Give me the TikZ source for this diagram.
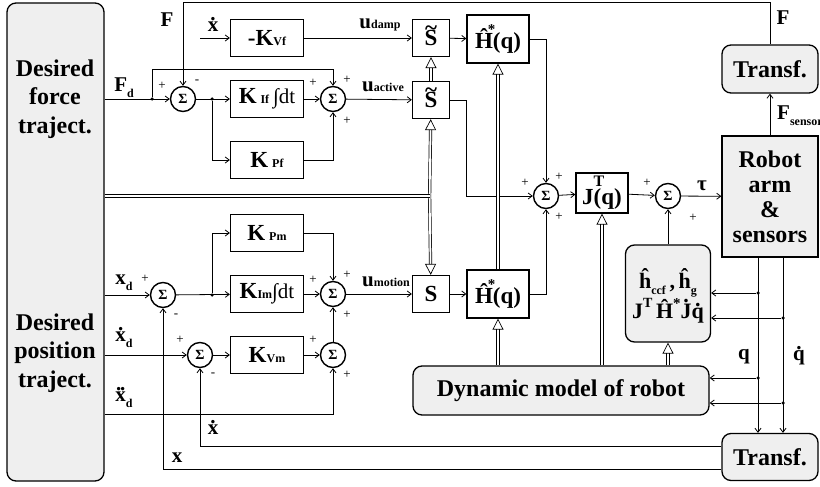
\documentclass[tikz,border=0pt]{standalone}
\usepackage{fontspec}
\setmainfont{Liberation Serif}
\usetikzlibrary{arrows.meta,positioning}
\definecolor{boxgray}{HTML}{EFEFEF}
\newcommand{\lsub}[1]{\raisebox{-0.3em}{\fontsize{12}{12}\selectfont #1}}
\newcommand{\ssub}[1]{{\fontsize{12}{12}\selectfont #1}}
\newcommand{\dotx}[2][.52em]{\ooalign{#2\cr\hidewidth\raisebox{#1}{.}\hidewidth\cr}}
\newcommand{\ddotx}{\ooalign{x\cr\hidewidth\raisebox{.52em}{.\kern-0.06em.}\hidewidth\cr}}
\newcommand{\tildeS}{\ooalign{S\cr\hidewidth\raisebox{.45em}{\textasciitilde}\hidewidth\cr}}
\newcommand{\hstar}{\^{H}\rlap{\kern-0.22em\raisebox{.62em}{\fontsize{15}{15}\selectfont *}}}

\begin{document}
\begin{tikzpicture}[x=1pt, y=-1pt, >={Straight Barb[length=4pt,width=6pt]},
  blk/.style={draw, line width=1.3pt, minimum width=73pt, minimum height=37pt, inner sep=1pt, font=\bfseries\fontsize{23}{23}\selectfont},
  sbox/.style={blk, minimum width=37pt},
  hqbox/.style={blk, minimum width=62pt, minimum height=48pt},
  gbox/.style={draw, line width=1.3pt, rounded corners=9pt, fill=boxgray, align=center, inner sep=2pt, font=\bfseries\fontsize{24}{28}\selectfont},
  dtext/.style={align=center, inner sep=0pt, font=\bfseries\fontsize{24}{28.5}\selectfont},
  sumc/.style={circle, draw, line width=1.4pt, minimum size=25pt, inner sep=0pt, font=\bfseries\fontsize{14}{14}\selectfont},
  lab/.style={inner sep=0pt, font=\bfseries\fontsize{21}{21}\selectfont},
  pm/.style={inner sep=0pt, font=\fontsize{13}{13}\selectfont},
  sig/.style={line width=0.8pt, ->},
  dblw/.style={line width=0.7pt, double distance=1.8pt},
  dbl/.style={dblw, -{Triangle[open, length=11pt, width=11pt]}},
  jdot/.style={circle, fill, inner sep=0pt, minimum size=3.5pt}]
  \useasboundingbox (0,0) rectangle (820,487);
  \clip (0,0) rectangle (820,487);

  % trajectory generator
  \node[gbox, minimum width=97pt, minimum height=478pt] (des) at (55.5,242) {};
  \node[dtext] (fdes) at (55,99) {Desired\\force\\traject.};
  \node[dtext] (pdes) at (55,353) {Desired\\position\\traject.};

  % force branch
  \node[blk] (kvf) at (267,38) {-K\ssub{Vf}};
  \node[blk] (kif) at (267,99) {K\,\ssub{If}\,{\mdseries\fontsize{21}{21}\selectfont ∫dt}};
  \node[blk] (kpf) at (267,160) {K\,\ssub{Pf}};
  \node[sumc] (sum1) at (183,99) {Σ};
  \node[sumc] (sumf) at (333,99) {Σ};
  \node[sbox] (s1) at (431,38) {\tildeS};
  \node[sbox] (s2) at (431,100) {\tildeS};
  \node[hqbox] (hf) at (498,39) {\hstar(q)};

  % motion branch
  \node[blk] (kpm) at (267,233) {K\,\ssub{Pm}};
  \node[blk] (kim) at (267,294) {K\ssub{Im}{\mdseries\fontsize{21}{21}\selectfont ∫dt}};
  \node[blk] (kvm) at (267,355) {K\ssub{Vm}};
  \node[sumc] (sump) at (163,295) {Σ};
  \node[sumc] (summ) at (333,294) {Σ};
  \node[sumc] (sumv) at (200,355) {Σ};
  \node[sumc] (suma) at (333,355) {Σ};
  \node[sbox] (s3) at (431,294) {S};
  \node[hqbox] (hm) at (498,294) {\hstar(q)};

  % joint space
  \node[sumc] (sum3) at (546,196) {Σ};
  \node[blk, minimum width=52pt, minimum height=40pt] (jt) at (602,193) {J\rlap{\raisebox{.8em}{\fontsize{16}{16}\selectfont T}}(q)};
  \node[sumc] (sum4) at (668,196) {Σ};
  \node[gbox, rounded corners=0pt, minimum width=96pt, minimum height=121pt, fill=boxgray, font=\bfseries\fontsize{24}{25}\selectfont] (robot) at (770,196.5) {Robot\\arm\\\&\\sensors};
  \node[gbox, minimum width=96pt, minimum height=48pt] (trf) at (770,69) {Transf.};
  \node[gbox, minimum width=96pt, minimum height=47pt] (trb) at (770,457) {Transf.};
  \node[gbox, minimum width=85pt, minimum height=97pt, font=\bfseries\fontsize{22}{30}\selectfont] (hcomp) at (668,293.5)
    {\^{h}\lsub{ccf}\,,\,\^{h}\lsub{g}\\J\raisebox{.5em}{\fontsize{14}{14}\selectfont T}\,\^{H}\raisebox{.45em}{\fontsize{15}{15}\selectfont *}\dotx[.72em]{J}\dotx{q}};
  \node[gbox, minimum width=296pt, minimum height=49pt] (dyn) at (561,390.5) {Dynamic model of robot};

  % junctions
  \node[jdot] (fdj) at (152,99) {};
  \node[jdot] (fej) at (212,99) {};
  \node[jdot] (mej) at (212,295) {};
  \coordinate (xin) at (200,38);
  \coordinate (qs) at ([xshift=-12pt]robot.south);
  \coordinate (qds) at ([xshift=13pt]robot.south);
  \node[jdot] (qa) at (qs |- 0,293) {};
  \node[jdot] (qb) at (qs |- 0,378) {};
  \node[jdot] (qda) at (qds |- 0,318) {};
  \node[jdot] (qdb) at (qds |- 0,403) {};
  \coordinate (sj) at (429.6,196);

  % signal paths
  \draw[sig] (des.east |- sum1) -- (sum1);
  \draw[sig] (fdj) -- ++(0,-30) -| (sumf);
  \draw[sig] (trf.north) -- ++(0,-42) -| (sum1);
  \draw[sig] (sum1) -- (kif);
  \draw[sig] (fej) |- (kpf);
  \draw[sig] (kif) -- (sumf);
  \draw[sig] (kpf) -| (sumf);
  \draw[sig] (sumf) -- (s2);
  \draw[sig] (xin) -- (kvf);
  \draw[sig] (kvf) -- (s1);
  \draw[sig] (s1) -- (hf);
  \draw[sig] (hf) -| (sum3);
  \draw[sig] (s2) -| (hf.west |- sum3) -- (sum3);
  \draw[sig] (hm) -| (sum3);
  \draw[sig] (sum3) -- (jt);
  \draw[sig] (jt) -- (sum4);
  \draw[sig] (sum4) -- (robot);
  \draw[sig] (hcomp) -- (sum4);
  \draw[sig] (robot) -- (trf);
  \draw[sig] (qs) -- (qs |- trb.north);
  \draw[sig] (qds) -- (qds |- trb.north);
  \draw[sig] (qa) -- (qa -| hcomp.east);
  \draw[sig] (qda) -- (qda -| hcomp.east);
  \draw[sig] (qb) -- (qb -| dyn.east);
  \draw[sig] (qdb) -- (qdb -| dyn.east);
  \draw[sig] ([yshift=11pt]trb.west) -| (sumv);
  \draw[sig] ([yshift=-12pt]trb.west) -| (sump);
  \draw[sig] (des.east |- sump) -- (sump);
  \draw[sig] (sump) -- (kim);
  \draw[sig] (mej) |- (kpm);
  \draw[sig] (kim) -- (summ);
  \draw[sig] (kpm) -| (summ);
  \draw[sig] (summ) -- (s3);
  \draw[sig] (s3) -- (hm);
  \draw[sig] (des.east |- sumv) -- (sumv);
  \draw[sig] (sumv) -- (kvm);
  \draw[sig] (kvm) -- (suma);
  \draw[sig] (suma) -- (summ);
  \draw[sig] (des.east |- 0,414) -| (suma);

  % selection and model paths
  \draw[dbl] (s2) -- (s1);
  \draw[dbl] (sj) -- (s2);
  \draw[dbl] (sj) -- (s3);
  \draw[dblw] (des.east |- sj) -- (sj);
  \draw[dbl] (hm) -- (hf);
  \draw[dbl] (dyn.north -| hm) -- (hm);
  \draw[dbl] (dyn.north -| jt) -- (jt);
  \draw[dbl] (dyn.north -| hcomp) -- (hcomp);

  % labels
  \node[lab] at (167,20) {F};
  \node[lab] at (783,18) {F};
  \node[lab] at (213,27) {\dotx{x}};
  \node[lab] at (380,25) {u\ssub{damp}};
  \node[lab] at (383,87) {u\ssub{active}};
  \node[lab] at (124,88) {F\lsub{d}};
  \node[lab] at (124,283) {x\lsub{d}};
  \node[lab] at (124,340) {\dotx{x}\lsub{d}};
  \node[lab] at (124,400) {\ddotx\lsub{d}};
  \node[lab] at (386,282) {u\ssub{motion}};
  \node[lab] at (213,430) {\dotx{x}};
  \node[lab] at (177,458) {x};
  \node[lab, anchor=west] at (777,116) {F\lsub{sensor}};
  \node[lab] at (702,186) {τ};
  \node[lab] at (744,357) {q};
  \node[lab] at (799,355) {\dotx{q}};

  % signs
  \node[pm] at (162,86) {+};  \node[pm] at (197,82) {-};
  \node[pm] at (313,83) {+};  \node[pm] at (347,80) {+};  \node[pm] at (347,121) {+};
  \node[pm] at (145,279) {+}; \node[pm] at (176,316) {-};
  \node[pm] at (313,280) {+}; \node[pm] at (347,275) {+}; \node[pm] at (347,315) {+};
  \node[pm] at (180,340) {+}; \node[pm] at (213,375) {-};
  \node[pm] at (313,340) {+}; \node[pm] at (347,375) {+};
  \node[pm] at (525,183) {+}; \node[pm] at (559,177) {+}; \node[pm] at (559,217) {+};
  \node[pm] at (647,183) {+}; \node[pm] at (693,218) {+};
\end{tikzpicture}
\end{document}
